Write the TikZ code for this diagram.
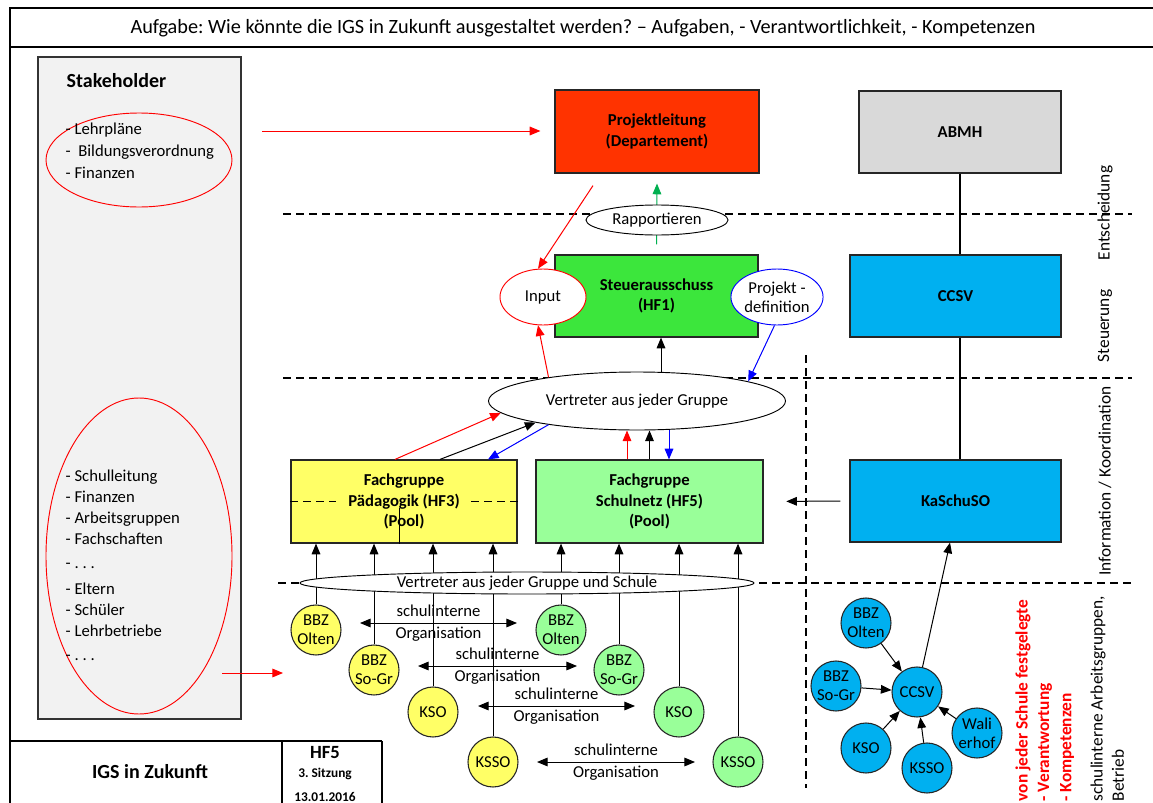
\documentclass[tikz,border=0pt]{standalone}
\usepackage{fontspec}
\setmainfont{Carlito}
\frenchspacing
\usetikzlibrary{shapes.geometric,arrows.meta,calc}
\definecolor{projred}{HTML}{FF3300}
\definecolor{abmhgray}{HTML}{D9D9D9}
\definecolor{steuergreen}{HTML}{3CE63C}
\definecolor{ccblue}{HTML}{00B0F0}
\definecolor{paedyellow}{HTML}{FFFF66}
\definecolor{schulgreen}{HTML}{99FF99}
\definecolor{stakegray}{HTML}{F2F2F2}
\definecolor{rappgreen}{HTML}{00B050}
\definecolor{lineblue}{HTML}{0000FF}
\begin{document}
\begin{tikzpicture}[x=0.75pt,y=-0.75pt,
 every node/.style={font=\fontsize{12.5}{15}\selectfont},
 mainbox/.style={rectangle, draw=black!85, line width=0.9pt, inner sep=0pt, align=center, font=\fontsize{12.5}{15.5}\selectfont\bfseries},
 ell/.style={ellipse, draw=black, line width=0.7pt, fill=white, inner sep=0pt, align=center},
 circ/.style={circle, draw=black!85, line width=0.8pt, minimum size=37.5pt, inner sep=0pt, align=center, font=\fontsize{12.5}{14.5}\selectfont},
 arr/.style={line width=0.75pt, -{Triangle[length=8pt,width=6.5pt]}},
 dbl/.style={line width=0.75pt, {Triangle[length=8pt,width=6.5pt]}-{Triangle[length=8pt,width=6.5pt]}},
 sepline/.style={line width=0.8pt, dash pattern=on 6pt off 3.75pt},
 lst/.style={anchor=west, text height=9pt, text depth=3pt},
 lbl/.style={align=center, font=\fontsize{12.5}{16.5}\selectfont},
 sidetxt/.style={rotate=90, font=\fontsize{13}{15}\selectfont},
 redtxt/.style={rotate=90, anchor=west, text=red, font=\fontsize{13}{15}\selectfont\bfseries},
]
\useasboundingbox (0,0) rectangle (1153,803);
\fill[white] (0,0) rectangle (1153,803);

% frame and title
\draw[line width=0.9pt] (10,803) -- (10,8) -- (1153,8);
\draw[line width=0.9pt] (10,47) -- (1153,47);
\node[font=\fontsize{15.2}{18}\selectfont] (title) at (583,28) {Aufgabe: Wie könnte die IGS in Zukunft ausgestaltet werden? – Aufgaben, - Verantwortlichkeit, - Kompetenzen};

% stakeholder panel
\node[draw=black!80, line width=0.9pt, fill=stakegray, minimum width=152.25pt, minimum height=496.5pt, inner sep=0pt] (stake) at (139.5,388) {};
\node[anchor=west, font=\fontsize{15}{18}\selectfont\bfseries] (stktitle) at (62,81) {Stakeholder};
\node[ellipse, draw=red, line width=0.7pt, minimum width=139.5pt, minimum height=70.5pt, inner sep=0pt] (ellA) at (139,160) {};
\node[ellipse, draw=red, line width=0.7pt, minimum width=139.5pt, minimum height=237pt, inner sep=0pt] (ellB) at (139,556) {};
\foreach \y/\t [count=\i] in {130/{- Lehrpläne},152/{-\ \ Bildungsverordnung},174/{- Finanzen}}
  \node[lst] (up\i) at (61,\y) {\t};
\foreach \y/\t [count=\i] in {477/{- Schulleitung},498/{- Finanzen},519/{- Arbeitsgruppen},540/{- Fachschaften},564/{- . . .},590/{- Eltern},611/{- Schüler},632/{- Lehrbetriebe},656/{- . . .}}
  \node[lst] (lo\i) at (61,\y) {\t};

% separator lines
\draw[sepline] (283,214) -- (1132,214);
\draw[sepline] (283,378) -- (1132,378);
\draw[sepline] (278,583) -- (1132,583);
\draw[sepline] (806,355) -- (806,788);

% main boxes
\node[mainbox, fill=projred, minimum width=153pt, minimum height=62.25pt] (projekt) at (657,131.5) {Projektleitung\\(Departement)};
\node[mainbox, fill=abmhgray, minimum width=151.5pt, minimum height=61.5pt] (abmh) at (960,132) {ABMH};
\node[mainbox, fill=steuergreen, minimum width=152.25pt, minimum height=61.5pt] (steuer) at (656.5,296) {Steuerausschuss\\(HF1)};
\node[mainbox, fill=ccblue, minimum width=158.25pt, minimum height=61.5pt] (ccsvbox) at (955.5,296) {CCSV};
\node[mainbox, fill=ccblue, minimum width=158.25pt, minimum height=61.5pt] (kaschuso) at (955.5,501) {KaSchuSO};
\node[mainbox, fill=paedyellow, minimum width=169.5pt, minimum height=62.25pt] (paed) at (404,501.5) {Fachgruppe\\Pädagogik (HF3)\\(Pool)};
\node[mainbox, fill=schulgreen, minimum width=170.25pt, minimum height=62.25pt] (schul) at (649.5,501.5) {Fachgruppe\\Schulnetz (HF5)\\(Pool)};
\draw[sepline] (paed.west) -- ++(46,0);
\draw[sepline] (paed.east) -- ++(-50,0);
\draw[line width=0.75pt] ($(paed.south)+(-5,0)$) -- ++(0,-36);

% side labels
\node[sidetxt] (sEnt) at (1105,213) {Entscheidung};
\node[sidetxt] (sSteu) at (1105,326) {Steuerung};
\node[sidetxt] (sInfo) at (1105,481) {Information / Koordination};
\node[sidetxt, anchor=west] (sSchul1) at (1098,806) {schulinterne Arbeitsgruppen,};
\node[sidetxt, anchor=west] (sSchul2) at (1118,806) {Betrieb};
\node[redtxt] (rt1) at (1023,806) {von jeder Schule festgelegte};
\node[redtxt] (rt2) at (1045,806) {- Verantwortung};
\node[redtxt] (rt3) at (1067,806) {- Kompetenzen};

% ellipses near Steuerausschuss
\node[ell, draw=red, minimum width=64.5pt, minimum height=42pt] (input) at (543,297) {Input};
\node[ell, draw=lineblue, minimum width=64.5pt, minimum height=42pt, font=\fontsize{12.5}{14.5}\selectfont] (projdef) at (777,297) {Projekt -\\definition};

% top arrows
\coordinate (srcA) at (262,131);
\draw[red, arr] (srcA) -- ($(srcA -| projekt.west)+(-14,0)$);
\coordinate (srcB) at (222,673);
\coordinate (dstB) at (283,673);
\draw[red, arr] (srcB) -- (dstB);
\draw[red, arr] ($(projekt.south)+(-64,12)$) -- (input.100);
\draw[rappgreen, arr] ($(steuer.north)+(0,-10)$) -- ($(projekt.south)+(0,10)$);
\node[ell, minimum width=106.5pt, minimum height=22.5pt] (rapp) at (657,220) {Rapportieren};

% Vertreter aus jeder Gruppe
\node[ell, minimum width=222.75pt, minimum height=43.5pt] (vert1) at (637,401) {Vertreter aus jeder Gruppe};
\draw[red, arr] (vert1.165) -- (input.260);
\draw[arr] ($(vert1.north)+(24,0)$) -- ($(steuer.south)+(4.5,0)$);
\draw[lineblue, arr] (projdef.265) -- (vert1.10);
\draw[red, arr] ($(paed.north)+(-9,0)$) -- (vert1.185);
\draw[arr] ($(paed.north)+(36,0)$) -- (vert1.192);
\draw[lineblue, arr] (vert1.195) -- ($(paed.north)+(84,0)$);
\draw[red, arr] ($(schul.north)+(-22.5,0)$) -- ($(vert1.south)+(-10,0)$);
\draw[arr] (schul.north) -- (vert1.south -| schul.north);
\draw[lineblue, arr] ($(vert1.south)+(32,0)$) -- ($(schul.north)+(19.5,0)$);

% right column
\draw[line width=0.8pt] (abmh.south) -- (abmh.south |- ccsvbox.north);
\draw[line width=0.8pt] (ccsvbox.south -| abmh.south) -- (abmh.south |- kaschuso.north);
\draw[arr, shorten <=6.75pt, shorten >=17pt] (kaschuso.west) -- (schul.east);

% school circles
\node[circ, fill=paedyellow] (yo) at (316,630) {BBZ\\Olten};
\node[circ, fill=paedyellow] (ys) at (374,670) {BBZ\\So-Gr};
\node[circ, fill=paedyellow] (yk) at (433,712) {KSO};
\node[circ, fill=paedyellow] (yks) at (493,762) {KSSO};
\node[circ, fill=schulgreen] (go) at (561,630) {BBZ\\Olten};
\node[circ, fill=schulgreen] (gs) at (619,670) {BBZ\\So-Gr};
\node[circ, fill=schulgreen] (gk) at (679,712) {KSO};
\node[circ, fill=schulgreen] (gks) at (738,762) {KSSO};
\foreach \n in {yo,ys,yk,yks} \draw[arr] (\n) -- (\n |- paed.south);
\foreach \n in {go,gs,gk,gks} \draw[arr] (\n) -- (\n |- schul.south);
\node[ell, minimum width=340.5pt, minimum height=16.5pt] (vert2) at (527,583) {Vertreter aus jeder Gruppe und Schule};

% schulinterne Organisation
\coordinate (r1a) at (360,623); \coordinate (r1b) at (517,623);
\coordinate (r2a) at (418,666); \coordinate (r2b) at (577,666);
\coordinate (r3a) at (478,706); \coordinate (r3b) at (635,706);
\coordinate (r4a) at (537,762); \coordinate (r4b) at (695,762);
\draw[dbl] (r1a) -- node[lbl] (o1) {schulinterne\\Organisation} (r1b);
\draw[dbl] (r2a) -- node[lbl] (o2) {schulinterne\\Organisation} (r2b);
\draw[dbl] (r3a) -- node[lbl] (o3) {schulinterne\\Organisation} (r3b);
\draw[dbl] (r4a) -- node[lbl] (o4) {schulinterne\\Organisation} (r4b);

% CCSV cluster
\node[circ, fill=ccblue] (bc) at (917,692) {CCSV};
\node[circ, fill=ccblue] (bo) at (866,623) {BBZ\\Olten};
\node[circ, fill=ccblue] (bs) at (836,686) {BBZ\\So-Gr};
\node[circ, fill=ccblue] (bk) at (866,748) {KSO};
\node[circ, fill=ccblue] (bks) at (927,768) {KSSO};
\node[circ, fill=ccblue] (bw) at (977,733) {Wali\\erhof};
\foreach \n in {bo,bs,bk,bks,bw} \draw[arr] (\n) -- (bc);
\draw[arr] (bc) -- ($(kaschuso.south)+(-5.5,0)$);

% bottom table
\draw[line width=0.9pt] (10,741) -- (382,741);
\draw[line width=0.9pt] (282,741) -- (282,803);
\draw[line width=0.9pt] (382,741) -- (382,803);
\node[font=\fontsize{15}{18}\selectfont\bfseries] (igs) at (150,772) {IGS in Zukunft};
\node[font=\fontsize{14}{17}\selectfont\bfseries] (hf5) at (325,753) {HF5};
\node[font=\fontsize{10}{12}\selectfont\bfseries] (sitz) at (325,774) {3. Sitzung};
\node[font=\fontsize{10}{12}\selectfont\bfseries] (datum) at (325,797) {13.01.2016};
\end{tikzpicture}
\end{document}
